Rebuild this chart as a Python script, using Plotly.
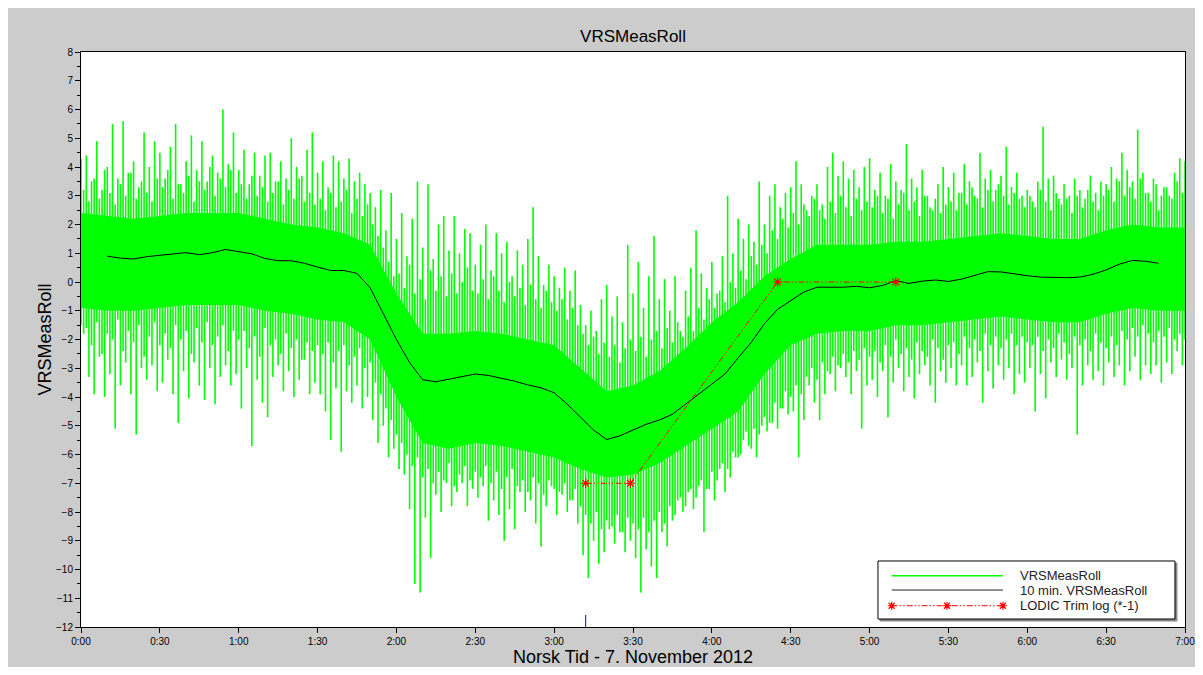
import plotly.graph_objects as go

# ---------------- data (time in minutes after 0:00, 7 Nov 2012) ----------------
# raw VRSMeasRoll drawn as one min..max column per minute
# column maxima at even minutes 0,2,...,420
peak_even = [
    4.3, 4.4, 3.5, 4.9, 3.2, 4.0, 5.5, 3.6, 5.6, 3.8, 4.2, 3.3, 5.2, 4.0, 4.9,
    4.5, 3.6, 4.7, 5.5, 3.4, 4.2, 5.1, 3.9, 4.9, 3.5, 4.4, 3.8, 6.0, 4.1, 5.2,
    3.9, 4.6, 3.4, 4.5, 3.7, 4.4, 4.5, 3.5, 4.2, 3.6, 5.0, 4.0, 3.7, 4.6, 5.2,
    3.8, 4.2, 3.3, 4.4, 4.2, 3.6, 4.3, 3.5, 3.8, 3.4, 3.1, 2.6, 3.2, 1.8, 3.1,
    1.5, 2.4, 0.9, 2.2, 3.5, 1.2, 3.4, 0.8, 2.0, 2.3, 1.1, 2.3, 1.0, 1.85, 1.7,
    0.6, 1.3, 2.0, 0.4, 1.7, 1.0, 1.4, 0.2, 1.1, 0.6, 1.5, 2.6, 0.9, -0.1, 0.6,
    0.2, -0.2, 0.5, -0.3, 0.4, -0.8, -1.5, -1.0, -1.7, -0.6, -0.1, -1.2, -0.5, -1.4, 1.3,
    -0.4, 0.7, -0.9, 0.2, 1.6, -0.6, 0.1, -1.0, 0.2, -1.7, -0.3, 0.5, 1.8, 0.3, -0.2,
    0.7, -0.4, 0.9, 3.0, 1.0, 2.2, 1.5, 2.0, 1.4, 3.5, 2.0, 3.0, 3.4, 2.6, 3.1,
    3.3, 4.2, 3.4, 2.5, 3.0, 3.4, 2.7, 4.0, 4.5, 3.7, 4.2, 3.6, 3.9, 3.3, 4.0,
    4.3, 3.2, 3.8, 3.0, 4.1, 3.5, 3.2, 4.8, 3.6, 3.3, 3.9, 3.0, 2.5, 3.4, 4.0,
    3.3, 3.8, 3.1, 4.1, 3.5, 3.0, 4.5, 3.6, 3.9, 3.2, 3.7, 4.7, 3.3, 3.8, 3.0,
    3.2, 2.8, 3.5, 5.4, 3.6, 3.7, 2.9, 3.4, 3.0, 3.6, 3.2, 2.9, 3.7, 3.1, 3.5,
    3.4, 4.0, 3.6, 4.5, 3.9, 3.5, 5.3, 3.8, 3.1, 3.6, 2.5, 3.3, 3.0, 3.8, 4.3, 4.2,
]
# column minima at even minutes 0,2,...,420
trough_even = [
    -1.5,
    -1.6, -2.2, -1.4, -2.5, -1.8, -2.0, -1.3, -2.4, -1.7, -2.1, -1.5, -2.6, -1.9, -1.4, -2.2,
    -1.8, -2.3, -1.5, -2.0, -1.7, -2.5, -1.6, -2.1, -1.4, -2.2, -1.9, -1.5, -2.4, -1.7, -2.0,
    -1.7, -2.3, -1.9, -2.6, -1.6, -2.2, -2.0, -2.5, -1.8, -2.3, -2.0, -2.7, -2.1, -2.4, -2.2,
    -2.5, -2.1, -2.8, -2.4, -2.2, -2.9, -2.6, -2.3, -3.0, -2.8, -3.5, -3.9, -4.4, -4.8, -5.3,
    -5.6, -6.0, -6.4, -6.1, -6.8, -6.5, -7.0, -6.6, -6.9, -6.3, -7.1, -6.7, -6.4, -6.9, -6.6,
    -6.8, -6.4, -7.0, -6.6, -7.2, -6.8, -6.5, -7.1, -6.9, -7.3, -6.8, -7.0, -7.4, -6.9, -7.2,
    -7.3, -7.0, -7.6, -7.2, -7.8, -8.1, -8.4, -8.0, -8.6, -8.3, -8.5, -8.1, -8.7, -8.2, -8.4,
    -8.6, -8.2, -8.7, -8.3, -8.0, -8.4, -7.8, -8.1, -7.5, -7.8, -7.2, -7.5, -6.9, -7.2, -6.6,
    -6.9, -6.3, -6.5, -5.9, -6.1, -5.5, -5.7, -5.1, -5.3, -4.7, -4.9, -4.2, -4.4, -3.8, -4.0,
    -3.6, -3.9, -3.3, -3.0, -3.4, -2.8, -3.1, -2.6, -2.9, -2.5, -2.8, -2.4, -2.7, -2.3, -2.6,
    -2.4, -2.8, -2.2, -2.6, -2.0, -2.5, -2.3, -2.7, -2.1, -2.4, -2.6, -2.0, -2.3, -2.7, -2.2,
    -2.1, -2.5, -1.9, -2.3, -2.0, -2.4, -1.8, -2.2, -1.9, -2.3, -2.0, -1.8, -2.2, -1.9, -2.1,
    -2.2, -1.9, -2.4, -2.0, -2.3, -1.8, -2.1, -2.5, -1.9, -2.2, -2.0, -2.4, -1.8, -2.1, -2.3,
    -1.9, -2.2, -1.7, -2.0, -1.6, -1.9, -1.5, -1.8, -2.1, -1.7, -1.9, -1.6, -2.0, -1.8, -2.0,
]
# column maxima at odd minutes 1,3,...,419
peak_odd = [
    3.2, 2.8, 3.6, 2.9, 3.9, 3.1, 2.7, 3.4, 3.0, 3.8, 2.9, 3.5, 3.1, 2.8, 3.6,
    3.3, 3.9, 2.9, 3.4, 3.1, 3.7, 2.8, 3.5, 3.2, 4.0, 3.0, 3.6, 3.3, 3.9, 3.1,
    3.4, 2.9, 3.7, 3.0, 3.3, 2.8, 3.1, 3.5, 2.7, 3.2, 2.9, 3.6, 2.8, 3.1, 2.7,
    2.9, 2.5, 3.1, 2.6, 2.8, 3.2, 2.4, 2.9, 2.3, 2.7, 2.0, 1.6, 1.2, 0.7, 0.2,
    0.3, -0.2, 0.6, -0.4, 0.1, -0.6, 0.4, -0.3, 0.2, -0.5, 0.3, -0.4, 0.0, 0.5, -0.3,
    -0.4, 0.1, -0.6, 0.2, -0.3, -0.7, 0.0, -0.5, -0.2, -0.8, -0.1, -0.6, -0.9, -0.3, -0.7,
    -1.0, -0.6, -1.3, -0.9, -1.5, -1.8, -2.2, -1.9, -2.5, -2.1, -2.6, -2.2, -2.8, -2.3, -2.0,
    -2.4, -1.9, -2.6, -2.0, -1.7, -2.3, -1.6, -2.1, -1.4, -1.9, -1.2, -1.7, -0.9, -1.3, -0.6,
    -0.9, -0.3, -0.7, 0.0, -0.2, 0.4, 0.1, 0.9, 0.6, 1.3, 1.0, 1.8, 1.5, 2.2, 1.9,
    2.4, 2.0, 2.7, 2.3, 2.9, 2.5, 2.2, 2.8, 2.4, 3.0, 2.6, 2.3, 2.9, 2.5, 2.8,
    2.6, 3.0, 2.4, 2.9, 2.2, 2.7, 3.1, 2.5, 2.8, 2.3, 3.0, 2.6, 2.9, 2.4, 2.7,
    2.8, 2.5, 3.1, 2.7, 3.3, 2.9, 2.6, 3.2, 2.8, 3.4, 3.0, 2.7, 3.1, 2.9, 2.6,
    3.0, 2.6, 3.2, 2.8, 2.5, 3.1, 2.7, 2.9, 2.4, 3.0, 2.6, 3.2, 2.8, 2.5, 3.0,
    3.2, 2.8, 3.5, 3.0, 3.3, 2.9, 3.6, 3.1, 2.8, 3.4, 3.0, 3.3, 2.9, 3.5, 3.1,
]
# column minima at odd minutes 1,3,...,419
trough_odd = [
    -1.8, -3.3, -3.9, -2.6, -4.0, -3.2, -5.1, -3.6, -2.8, -3.9, -5.3, -3.0, -3.4, -2.9, -3.8,
    -3.5, -2.7, -3.9, -4.9, -3.1, -4.05, -2.8, -3.6, -4.1, -3.0, -4.25, -3.3, -2.9, -3.6, -3.2,
    -4.4, -3.0, -5.7, -3.4, -4.2, -4.7, -3.3, -2.9, -3.8, -3.1, -4.0, -3.4, -2.7, -3.9, -3.5,
    -3.9, -4.5, -5.5, -3.7, -5.9, -3.8, -4.2, -3.6, -4.4, -4.0, -4.8, -5.6, -5.0, -6.1, -5.8,
    -6.5, -6.7, -7.9, -10.5, -10.8, -8.2, -9.6, -7.4, -8.0, -7.0, -7.8, -7.3, -7.0, -7.8, -7.2,
    -7.5, -7.1, -8.3, -7.6, -8.1, -9.0, -7.9, -8.6, -7.3, -8.0, -7.6, -8.4, -9.2, -7.8, -7.1,
    -8.1, -7.4, -8.0, -7.6, -8.4, -9.5, -10.3, -9.0, -9.8, -9.4, -8.6, -9.1, -8.7, -9.4, -9.0,
    -9.6, -10.8, -9.3, -9.9, -10.3, -8.7, -9.2, -8.3, -7.6, -8.0, -7.3, -7.9, -7.1, -8.7, -7.2,
    -7.6, -6.5, -7.3, -6.8, -6.1, -6.0, -5.2, -5.8, -6.1, -5.0, -5.2, -4.9, -5.1, -4.4, -4.6,
    -4.5, -6.1, -4.8, -3.6, -4.2, -4.8, -3.9, -3.2, -3.8, -3.0, -3.3, -3.9, -3.1, -5.1, -3.6,
    -3.4, -4.0, -3.1, -4.7, -3.5, -3.0, -3.8, -3.3, -4.05, -3.2, -2.9, -3.6, -4.2, -3.1, -3.5,
    -3.0, -3.6, -2.9, -3.6, -3.3, -2.8, -4.2, -3.1, -3.7, -2.9, -3.4, -3.0, -3.9, -3.2, -3.5,
    -3.0, -4.5, -3.2, -4.05, -2.8, -3.3, -2.7, -3.4, -3.0, -5.3, -3.6, -2.9, -3.4, -3.1, -3.6,
    -2.8, -3.3, -2.9, -3.6, -3.1, -2.6, -3.4, -2.9, -3.2, -2.9, -3.5, -2.8, -3.2, -2.4, -2.9,
]

# dense core of the raw signal (every 10 min)
band_t = list(range(0, 421, 10))
band_hi = [2.4, 2.3, 2.2, 2.3, 2.4, 2.4, 2.4, 2.2, 2.0, 1.9, 1.7, 1.3, -0.4, -1.8, -1.8,
           -1.7, -1.8, -2.0, -2.2, -3.0, -3.8, -3.6, -3.1, -2.3, -1.4, -0.7, 0.2, 0.8,
           1.3, 1.3, 1.3, 1.4, 1.4, 1.5, 1.6, 1.7, 1.6, 1.5, 1.5, 1.8, 2.0, 1.9, 1.9]
band_lo = [-0.9, -1.0, -1.0, -0.9, -0.8, -0.8, -0.8, -1.0, -1.1, -1.3, -1.4, -2.0, -4.0,
           -5.6, -5.8, -5.6, -5.7, -5.9, -6.1, -6.5, -6.8, -6.7, -6.3, -5.7, -5.1, -4.5,
           -3.2, -2.2, -1.8, -1.7, -1.7, -1.5, -1.5, -1.4, -1.3, -1.2, -1.3, -1.4, -1.4,
           -1.1, -0.9, -1.0, -1.0]

# 10 min. average
smooth_t = list(range(10, 411, 5))
smooth_v = [0.9, 0.83, 0.8, 0.88, 0.93, 0.97, 1.02, 0.95, 1.02, 1.13, 1.05, 0.98, 0.82,
            0.74, 0.74, 0.65, 0.52, 0.4, 0.4, 0.3, -0.2, -1.1, -2.0, -2.8, -3.4, -3.47,
            -3.38, -3.3, -3.2, -3.25, -3.35, -3.45, -3.58, -3.68, -3.85, -4.25, -4.7,
            -5.15, -5.48, -5.35, -5.15, -4.95, -4.8, -4.6, -4.25, -3.9, -3.55, -3.2,
            -2.64, -2.1, -1.45, -0.95, -0.65, -0.35, -0.18, -0.18, -0.18, -0.15, -0.2,
            -0.12, 0.05, -0.05, 0.03, 0.07, 0.02, 0.1, 0.22, 0.36, 0.35, 0.28, 0.22,
            0.17, 0.16, 0.15, 0.17, 0.27, 0.42, 0.62, 0.75, 0.72, 0.65]

# LODIC trim log (*-1)
trim_t = [192, 209, 265, 310]
trim_v = [-7, -7, 0, 0]

tick_vals = list(range(0, 421, 30))
tick_labels = ["0:00", "0:30", "1:00", "1:30", "2:00", "2:30", "3:00", "3:30",
               "4:00", "4:30", "5:00", "5:30", "6:00", "6:30", "7:00"]
cursor_t = 192

series_names = ["VRSMeasRoll", "10 min. VRSMeasRoll", "LODIC Trim log (*-1)"]

# ---------------- build figure ----------------
col_x, col_y = [], []
for m in range(0, 421):
    j = m // 2
    if m % 2 == 0:
        top, bot = peak_even[j], trough_even[j]
    else:
        top, bot = peak_odd[j], trough_odd[j]
    col_x += [m, m, None]
    col_y += [bot, top, None]

GREEN = "#00ff00"
RED_DASH = "6px,2px,1.5px,2px,1.5px,2px"
FONT = "Liberation Sans, Arial, sans-serif"

fig = go.Figure()
fig.add_trace(go.Scatter(x=band_t, y=band_lo, mode="lines", line=dict(width=0, color=GREEN),
                         showlegend=False, hoverinfo="skip"))
fig.add_trace(go.Scatter(x=band_t, y=band_hi, mode="lines", line=dict(width=0, color=GREEN),
                         fill="tonexty", fillcolor=GREEN, showlegend=False, hoverinfo="skip"))
fig.add_trace(go.Scatter(x=col_x, y=col_y, mode="lines", name=series_names[0],
                         line=dict(width=1.6, color=GREEN), connectgaps=False,
                         showlegend=False))
fig.add_trace(go.Scatter(x=smooth_t, y=smooth_v, mode="lines", name=series_names[1],
                         line=dict(width=1, color="black"), showlegend=False))
fig.add_trace(go.Scatter(x=trim_t, y=trim_v, mode="lines+markers", name=series_names[2],
                         line=dict(width=1, color="red", dash=RED_DASH),
                         marker=dict(symbol="asterisk-open", size=8,
                                     line=dict(width=1.2, color="red")),
                         showlegend=False))

shapes = []
# cursor tick at bottom
shapes.append(dict(type="line", xref="x", yref="paper", x0=cursor_t, x1=cursor_t,
                   y0=0, y1=0.021, line=dict(color="blue", width=1)))
# custom legend box (shadow + box)
lx0, lx1, ly0, ly1 = 0.7219, 0.9909, 0.0139, 0.1148
shapes.append(dict(type="rect", xref="paper", yref="paper", x0=lx0 + 0.0018, x1=lx1 + 0.0018,
                   y0=ly0 - 0.0035, y1=ly1 - 0.0035, line=dict(width=1, color="#888888"),
                   fillcolor="#888888", layer="above"))
shapes.append(dict(type="rect", xref="paper", yref="paper", x0=lx0, x1=lx1, y0=ly0, y1=ly1,
                   line=dict(width=1, color="black"), fillcolor="white", layer="above"))
row_y = [0.0892, 0.0643, 0.0370]
sx0, sx1, sxm = 0.7343, 0.8351, 0.7844
shapes.append(dict(type="line", xref="paper", yref="paper", x0=sx0, x1=sx1, y0=row_y[0],
                   y1=row_y[0], line=dict(color=GREEN, width=1.5)))
shapes.append(dict(type="line", xref="paper", yref="paper", x0=sx0, x1=sx1, y0=row_y[1],
                   y1=row_y[1], line=dict(color="#222222", width=1)))
shapes.append(dict(type="line", xref="paper", yref="paper", x0=sx0, x1=sx1, y0=row_y[2],
                   y1=row_y[2], line=dict(color="red", width=1, dash=RED_DASH)))
star = "M-4,0L4,0M0,-4L0,4M-3,-3L3,3M-3,3L3,-3"
for sx in (sx0, sxm, sx1):
    shapes.append(dict(type="path", xref="paper", yref="paper", xsizemode="pixel",
                       ysizemode="pixel", xanchor=sx, yanchor=row_y[2], path=star,
                       line=dict(color="red", width=1.2)))

annotations = []
for name, ry in zip(series_names, row_y):
    annotations.append(dict(xref="paper", yref="paper", x=0.8487, y=ry, text=name,
                            showarrow=False, xanchor="left", yanchor="middle",
                            font=dict(family=FONT, size=13, color="#222222")))
annotations.append(dict(xref="paper", yref="paper", x=0.5, y=-0.0522,
                        text="Norsk Tid - 7. November 2012", showarrow=False,
                        xanchor="center", yanchor="middle",
                        font=dict(family=FONT, size=18, color="black")))
annotations.append(dict(xref="paper", yref="paper", x=-0.0335, y=0.5, text="VRSMeasRoll",
                        textangle=-90, showarrow=False, xanchor="center", yanchor="middle",
                        font=dict(family=FONT, size=18, color="black")))

W, H = 1187, 659
fig.update_layout(
    width=W, height=H,
    margin=dict(l=73, r=10, t=44, b=40, pad=0, autoexpand=False),
    paper_bgcolor="#cccccc",
    plot_bgcolor="white",
    showlegend=False,
    title=dict(text="VRSMeasRoll", x=0.5, xref="paper", xanchor="center",
               y=1 - 28 / H, yanchor="middle",
               font=dict(family=FONT, size=17, color="black")),
    shapes=shapes,
    annotations=annotations,
    font=dict(family=FONT, size=10, color="black"),
)
fig.update_xaxes(range=[0, 420], tickvals=tick_vals, ticktext=tick_labels,
                 automargin=False, ticklabeloverflow="allow",
                 showgrid=False, zeroline=False, showline=True, linecolor="black",
                 linewidth=1, mirror=True, ticks="outside", ticklen=5, tickcolor="black",
                 tickfont=dict(family=FONT, size=10, color="black"))
fig.update_yaxes(range=[-12, 8], dtick=1, tick0=0, showgrid=False, zeroline=False,
                 automargin=False,
                 showline=True, linecolor="black", linewidth=1, mirror=True,
                 ticks="outside", ticklen=5, tickcolor="black",
                 minor=dict(dtick=0.5, ticks="outside", ticklen=3, tickcolor="black"),
                 tickfont=dict(family=FONT, size=10, color="black"))

fig.write_html("out.html")
